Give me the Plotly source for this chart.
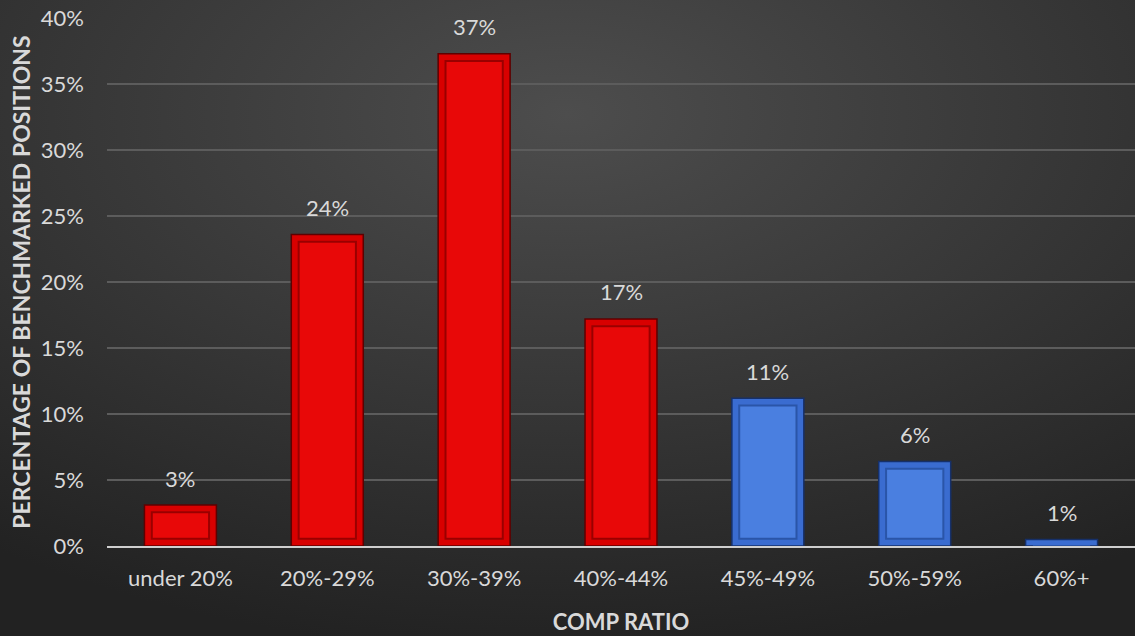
import base64
import plotly.graph_objects as go

categories = ["under 20%", "20%-29%", "30%-39%", "40%-44%", "45%-49%", "50%-59%", "60%+"]
values = [3.1, 23.6, 37.3, 17.2, 11.2, 6.4, 0.5]
labels = ["3%", "24%", "37%", "17%", "11%", "6%", "1%"]
groups = ["red", "red", "red", "red", "blue", "blue", "blue"]
y_ticks = [0, 5, 10, 15, 20, 25, 30, 35, 40]
y_ticktext = ["0%", "5%", "10%", "15%", "20%", "25%", "30%", "35%", "40%"]

outer_col = {"red": "#d80000", "blue": "#3a6cd0"}
outer_line = {"red": "#5e0000", "blue": "#16306a"}
inner_col = {"red": "#e80808", "blue": "#4a7fe0"}
inner_line = {"red": "#9a0000", "blue": "#2a55a8"}

inset = 0.55  # bevel inset in data units
inner_base = [inset if v > 2 * inset else 0 for v in values]
inner_h = [max(v - 2 * inset, 0) for v in values]

fig = go.Figure()
fig.add_trace(go.Bar(
    x=categories, y=values, width=0.49,
    marker=dict(color=[outer_col[g] for g in groups],
                line=dict(color=[outer_line[g] for g in groups], width=1.5)),
    hoverinfo="skip", showlegend=False,
))
fig.add_trace(go.Bar(
    x=categories, y=inner_h, base=inner_base, width=0.39,
    marker=dict(color=[inner_col[g] for g in groups],
                line=dict(color=[inner_line[g] for g in groups], width=2)),
    hoverinfo="skip", showlegend=False,
))

for c, v, t in zip(categories, values, labels):
    fig.add_annotation(x=c, y=v, text=t, showarrow=False, yanchor="middle",
                       yshift=27, font=dict(family="Lato", size=22, color="#d9d9d9"))

svg = ('<svg xmlns="http://www.w3.org/2000/svg" width="1135" height="636">'
       '<defs><radialGradient id="g" cx="50%" cy="18%" r="85%">'
       '<stop offset="0" stop-color="#4d4d4d"/><stop offset="1" stop-color="#222222"/>'
       '</radialGradient></defs><rect width="1135" height="636" fill="url(#g)"/></svg>')
src = "data:image/svg+xml;base64," + base64.b64encode(svg.encode()).decode()

L, R, T, B = 107, 0, 18, 90
W, H = 1135, 636
pw, ph = W - L - R, H - T - B
fig.add_layout_image(dict(source=src, xref="paper", yref="paper",
                          x=-L / pw, y=1 + T / ph, sizex=W / pw, sizey=H / ph,
                          xanchor="left", yanchor="top", sizing="stretch",
                          layer="below"))

fig.update_layout(
    width=W, height=H,
    margin=dict(l=L, r=R, t=T, b=B),
    barmode="overlay",
    paper_bgcolor="#333333",
    plot_bgcolor="rgba(0,0,0,0)",
    font=dict(family="Lato", color="#d9d9d9"),
    xaxis=dict(
        title=dict(text="<b>COMP RATIO</b>", font=dict(size=22, color="#d9d9d9"), standoff=24),
        tickfont=dict(size=22, color="#d9d9d9"),
        showline=True, linecolor="#cfcfcf", linewidth=2,
        showgrid=False, ticks="", ticklabelstandoff=12,
    ),
    yaxis=dict(
        title=dict(text="<b>PERCENTAGE OF BENCHMARKED POSITIONS</b>",
                   font=dict(size=23, color="#d9d9d9"), standoff=3),
        range=[0, 40], tickvals=y_ticks, ticktext=y_ticktext,
        tickfont=dict(size=22, color="#d9d9d9"),
        showgrid=True, gridcolor="#5c5c5c", gridwidth=1.5,
        zeroline=False, ticks="", ticklabelstandoff=22,
    ),
)

fig.write_html("out.html")
